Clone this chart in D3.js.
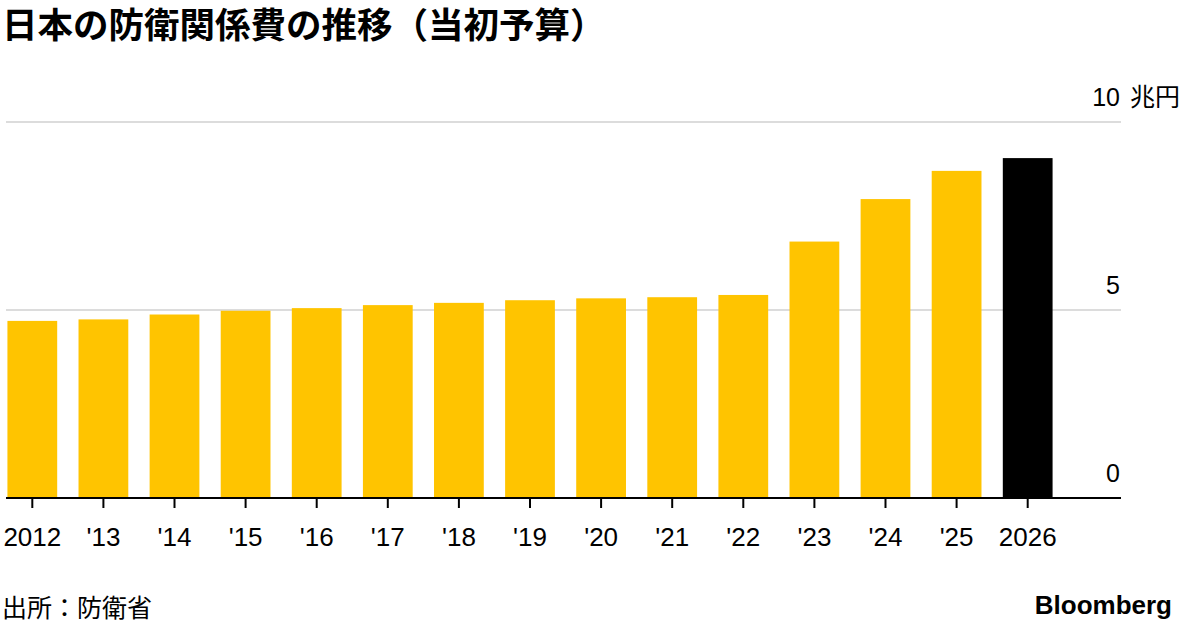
<!DOCTYPE html>
<html>
<head>
<meta charset="utf-8">
<script src="https://cdn.jsdelivr.net/npm/d3@7"></script>
<style>
  body { margin: 0; background: #fff; }
  text { font-family: "Liberation Sans", "Noto Sans CJK JP", sans-serif; }
  .jp { font-family: "Noto Sans CJK JP", sans-serif; }
</style>
</head>
<body>
<svg id="chart" width="1184" height="626"></svg>
<script>
// fiscal years and initial budget (trillion yen)
var years = ["2012", "'13", "'14", "'15", "'16", "'17", "'18", "'19", "'20", "'21", "'22", "'23", "'24", "'25", "2026"];
var budget = [4.71, 4.75, 4.88, 4.98, 5.05, 5.13, 5.19, 5.26, 5.31, 5.34, 5.40, 6.82, 7.95, 8.70, 9.04];
var yTicks = [0, 5, 10];
var yTickLabels = ["0", "5", "10"];
var yUnit = "兆円";

var svg = d3.select("#chart");

var plotLeft = 6, plotRight = 1121, plotTop = 122, plotBottom = 498;

var x = d3.scaleBand()
  .domain(years)
  .range([plotLeft, 1054])
  .paddingInner(0.3)
  .paddingOuter(0.02);

var y = d3.scaleLinear()
  .domain([0, 10])
  .range([plotBottom, plotTop]);

// title
svg.append("text")
  .attr("class", "jp")
  .attr("x", 2)
  .attr("y", 38)
  .attr("font-size", 35.5)
  .attr("font-weight", 700)
  .attr("fill", "#000")
  .text("日本の防衛関係費の推移（当初予算）");

// gridlines
svg.append("g")
  .selectAll("line")
  .data(yTicks.filter(function(d) { return d > 0; }))
  .enter().append("line")
  .attr("x1", plotLeft)
  .attr("x2", plotRight)
  .attr("y1", function(d) { return y(d); })
  .attr("y2", function(d) { return y(d); })
  .attr("stroke", "#dcdcdc")
  .attr("stroke-width", 2);

// y labels
svg.append("g").selectAll("text")
  .data(yTicks)
  .enter().append("text")
  .attr("x", 1120)
  .attr("y", function(d) { return y(d) - 16; })
  .attr("text-anchor", "end")
  .attr("font-size", 25)
  .attr("fill", "#000")
  .text(function(d, i) { return yTickLabels[i]; });

svg.append("text")
  .attr("class", "jp")
  .attr("x", 1130)
  .attr("y", y(10) - 16)
  .attr("font-size", 25)
  .attr("fill", "#000")
  .text(yUnit);

// bars
svg.append("g")
  .selectAll("rect")
  .data(budget)
  .enter().append("rect")
  .attr("x", function(d, i) { return x(years[i]); })
  .attr("width", x.bandwidth())
  .attr("y", function(d) { return y(d); })
  .attr("height", function(d) { return y(0) - y(d); })
  .attr("fill", function(d, i) { return i == budget.length - 1 ? "#000" : "#ffc400"; });

// baseline
svg.append("line")
  .attr("x1", plotLeft)
  .attr("x2", plotRight)
  .attr("y1", plotBottom)
  .attr("y2", plotBottom)
  .attr("stroke", "#000")
  .attr("stroke-width", 2);

// x axis
var xAxis = svg.append("g")
  .attr("transform", "translate(0," + plotBottom + ")")
  .call(d3.axisBottom(x).tickSize(10).tickPadding(20));
xAxis.select(".domain").remove();
xAxis.selectAll(".tick line").attr("stroke", "#000").attr("stroke-width", 2);
xAxis.selectAll(".tick text")
  .attr("font-size", 26)
  .attr("fill", "#000")
  .style("font-family", "'Liberation Sans', sans-serif");

// footer
svg.append("text")
  .attr("class", "jp")
  .attr("x", 2)
  .attr("y", 617)
  .attr("font-size", 25)
  .attr("fill", "#000")
  .text("出所：防衛省");

svg.append("text")
  .attr("x", 1172)
  .attr("y", 614)
  .attr("text-anchor", "end")
  .attr("font-size", 26)
  .attr("font-weight", 700)
  .attr("fill", "#000")
  .text("Bloomberg");
</script>
</body>
</html>
